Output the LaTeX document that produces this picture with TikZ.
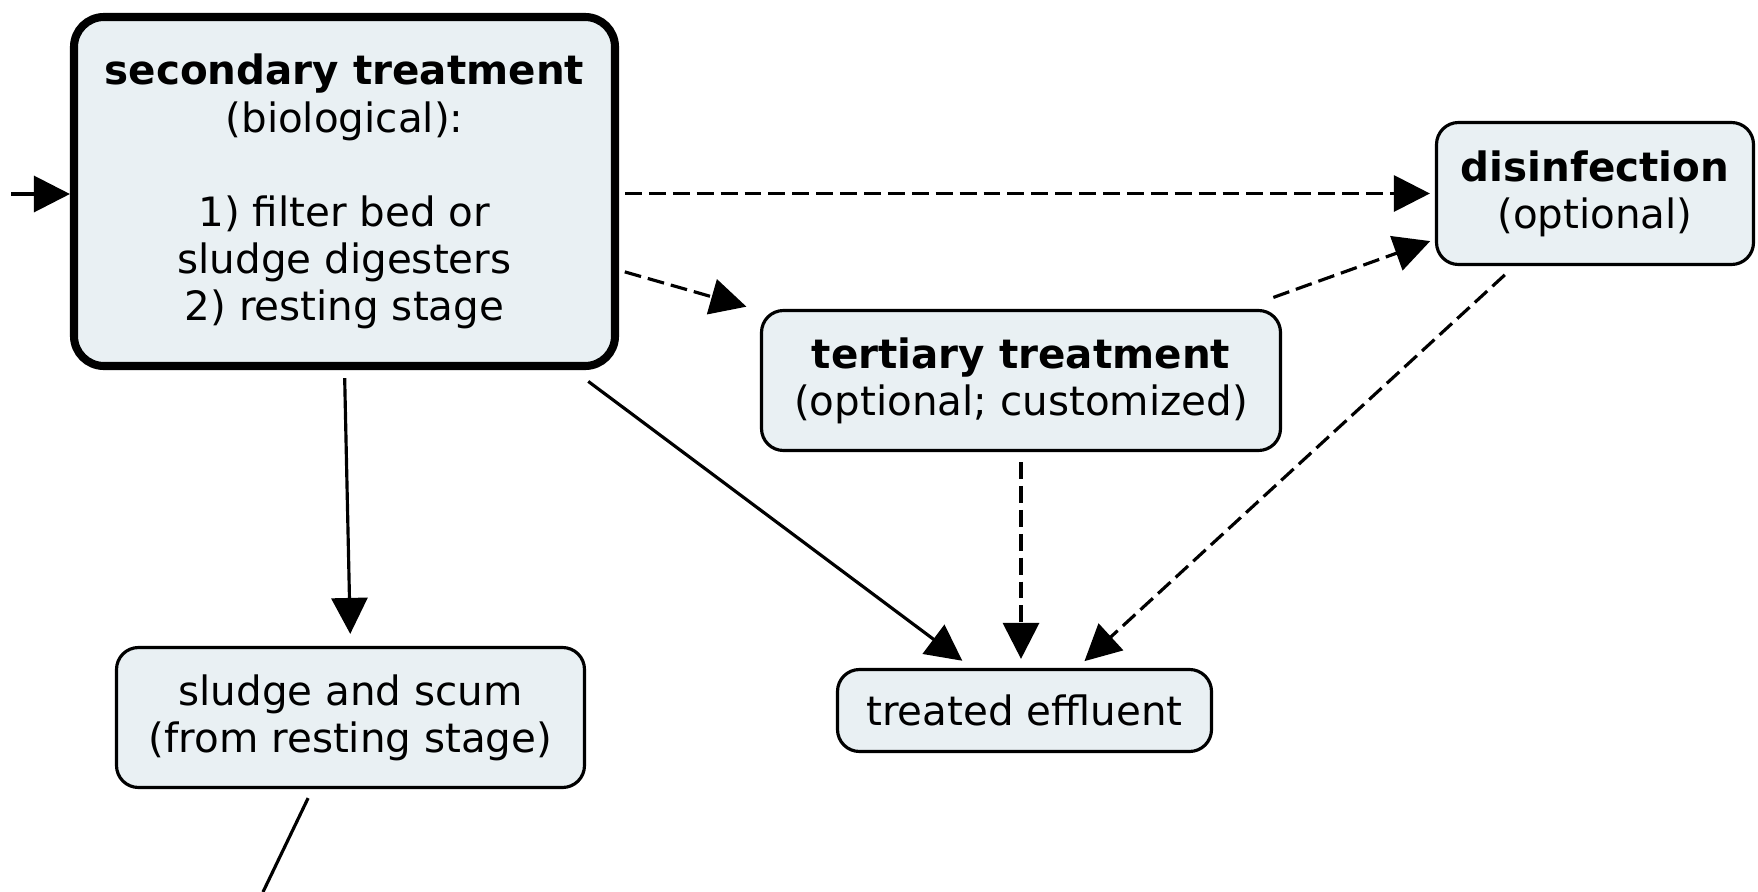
\documentclass[tikz,border=0pt]{standalone}
\usepackage{fontspec}
\setmainfont{DejaVu Sans}
\usetikzlibrary{arrows.meta}
\definecolor{boxfill}{RGB}{233,240,243}

\begin{document}
\begin{tikzpicture}[
    box/.style={draw, line width=0.9pt, rounded corners=0.22cm, fill=boxfill, align=center,
      font=\fontsize{11.5}{13.4}\selectfont, inner sep=0pt},
    arr/.style={-{Triangle[length=0.36cm, width=0.36cm]}, line width=0.9pt},
    darr/.style={arr, dash pattern=on 4.8pt off 2pt},
  ]
  \useasboundingbox (0,0) rectangle (17.58,-8.92);

  \node[box, line width=2.3pt, rounded corners=0.3cm, minimum width=5.41cm, minimum height=3.49cm] (sec) at (3.445,-1.915)
    {\textbf{secondary treatment}\\(biological):\\[13.4pt]1) filter bed or\\sludge digesters\\2) resting stage};
  \node[box, minimum width=3.17cm, minimum height=1.42cm] (dis) at (15.95,-1.935) {\textbf{disinfection}\\(optional)};
  \node[box, minimum width=5.19cm, minimum height=1.40cm] (ter) at (10.21,-3.805) {\textbf{tertiary treatment}\\(optional; customized)};
  \node[box, minimum width=4.68cm, minimum height=1.40cm] (sludge) at (3.505,-7.175) {sludge and scum\\(from resting stage)};
  \node[box, minimum width=3.74cm, minimum height=0.82cm] (eff) at (10.245,-7.105) {treated effluent};

  \coordinate (in) at (0.11,-1.94);
  \draw[arr] (in) -- (in -| sec.west);

  \draw[darr, shorten <=0.06cm, shorten >=0.05cm] (sec.east |- dis.west) -- (dis.west);
  \draw[darr, shorten <=0.06cm, shorten >=0.14cm] (sec.-16) -- (ter.165);
  \draw[darr, shorten <=0.34cm, shorten >=0.05cm] (ter.18) -- (dis.196);
  \draw[arr, shorten <=0.19cm, shorten >=0.12cm] (sec.-38) -- (eff.141);
  \draw[darr, shorten <=0.1cm, shorten >=0.09cm] (ter.south) -- (ter.south |- eff.north);
  \draw[darr, shorten <=0.13cm, shorten >=0.1cm] (dis.222) -- (eff.39);
  \draw[arr, shorten <=0.08cm, shorten >=0.12cm] (sec.south) -- (sludge.north);

  \coordinate (out) at (2.63,-8.92);
  \draw[line width=0.9pt, shorten <=0.1cm] (sludge.242) -- (out);
\end{tikzpicture}
\end{document}
